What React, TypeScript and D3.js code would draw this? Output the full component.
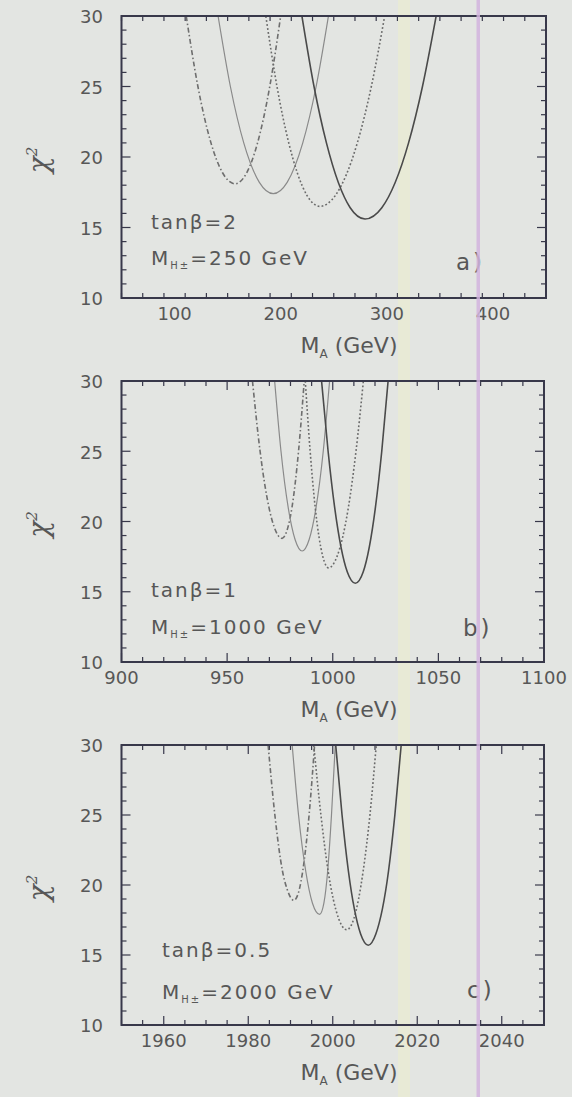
import React from "react";
import * as d3 from "d3";

type Pt = [number, number];

// ---- Panel a: tanβ = 2, M_H± = 250 GeV ----
const aXTicks = [100, 200, 300, 400];
const aCurveDashDot: Pt[] = [[111, 30], [122, 25], [134.3, 21], [145.1, 18.9], [157, 18.1], [168.1, 18.9], [178.2, 21], [189.7, 25], [200, 30]];
const aCurveThin: Pt[] = [[141, 30], [152.6, 25], [165.2, 21], [179.9, 18.2], [193, 17.4], [206.1, 18.2], [220.8, 21], [233.4, 25], [245, 30]];
const aCurveDotted: Pt[] = [[186, 30], [196.5, 25], [207.6, 21], [224.6, 17.3], [237, 16.5], [251.8, 17.3], [272.2, 21], [285.4, 25], [298, 30]];
const aCurveSolid: Pt[] = [[220, 30], [231.4, 25], [243.1, 21], [265.5, 16.4], [279.5, 15.6], [295.3, 16.4], [320.5, 21], [333.6, 25], [346.5, 30]];

// ---- Panel b: tanβ = 1, M_H± = 1000 GeV ----
const bXTicks = [900, 950, 1000, 1050, 1100];
const bCurveDashDot: Pt[] = [[962, 30], [965.6, 25], [969.8, 21], [972.3, 19.6], [976, 18.8], [978.8, 19.6], [980.7, 21], [983.8, 25], [986.5, 30]];
const bCurveThin: Pt[] = [[972.5, 30], [975.5, 25], [978.9, 21], [982.2, 18.7], [985.5, 17.9], [988.8, 18.7], [992.1, 21], [995.5, 25], [998.5, 30]];
const bCurveDotted: Pt[] = [[987, 30], [989.3, 25], [991.7, 21], [995.3, 17.5], [998, 16.7], [1002, 17.5], [1007.4, 21], [1011, 25], [1014.5, 30]];
const bCurveSolid: Pt[] = [[994.7, 30], [997.8, 25], [1000.9, 21], [1006.9, 16.4], [1010.7, 15.6], [1014.4, 16.4], [1020.2, 21], [1023.2, 25], [1026.2, 30]];

// ---- Panel c: tanβ = 0.5, M_H± = 2000 GeV ----
const cXTicks = [1960, 1980, 2000, 2020, 2040];
const cCurveDashDot: Pt[] = [[1984.7, 30], [1986.3, 25], [1988.1, 21], [1989.2, 19.7], [1990.8, 18.9], [1992.1, 19.7], [1992.9, 21], [1994.4, 25], [1995.7, 30]];
const cCurveThin: Pt[] = [[1990.4, 30], [1991.9, 25], [1993.6, 21], [1995.2, 18.7], [1996.9, 17.9], [1997.9, 18.7], [1998.8, 21], [1999.7, 25], [2000.6, 30]];
const cCurveDotted: Pt[] = [[1995.5, 30], [1997.2, 25], [1998.9, 21], [2001.4, 17.6], [2003.3, 16.8], [2005.0, 17.6], [2007.2, 21], [2008.8, 25], [2010.3, 30]];
const cCurveSolid: Pt[] = [[2000.7, 30], [2002.2, 25], [2003.7, 21], [2006.6, 16.5], [2008.4, 15.7], [2010.2, 16.5], [2013.2, 21], [2014.7, 25], [2016.2, 30]];

const yTicks = [10, 15, 20, 25, 30];

type PanelData = {
  id: string;
  xDomain: [number, number];
  xTicks: number[];
  xMinorStep: number;
  curves: { dashDot: Pt[]; thin: Pt[]; dotted: Pt[]; solid: Pt[] };
  tanb: string;
  mass: string;
  tag: string;
};

const panels: PanelData[] = [
  { id: "a", xDomain: [50, 450], xTicks: aXTicks, xMinorStep: 20,
    curves: { dashDot: aCurveDashDot, thin: aCurveThin, dotted: aCurveDotted, solid: aCurveSolid },
    tanb: "2", mass: "250", tag: "a)" },
  { id: "b", xDomain: [900, 1100], xTicks: bXTicks, xMinorStep: 10,
    curves: { dashDot: bCurveDashDot, thin: bCurveThin, dotted: bCurveDotted, solid: bCurveSolid },
    tanb: "1", mass: "1000", tag: "b)" },
  { id: "c", xDomain: [1950, 2050], xTicks: cXTicks, xMinorStep: 5,
    curves: { dashDot: cCurveDashDot, thin: cCurveThin, dotted: cCurveDotted, solid: cCurveSolid },
    tanb: "0.5", mass: "2000", tag: "c)" },
];

// layout (pixels)
const W = 572;
const H = 1097;
const frames = [
  { left: 121.5, right: 546, top: 16, bottom: 298, textX: 151, tanY: 229, massY: 265, tagX: 456, tagY: 270 },
  { left: 121.5, right: 544, top: 381, bottom: 662, textX: 151, tanY: 597, massY: 634, tagX: 463, tagY: 636 },
  { left: 121.5, right: 544, top: 745, bottom: 1025, textX: 162, tanY: 957, massY: 999, tagX: 467, tagY: 998 },
];

const FONT = "'DejaVu Sans', sans-serif";
const INK = "#38384a";
const LABEL = "#575757";

function Panel({ p, f }: { p: PanelData; f: typeof frames[number] }) {
  const x = d3.scaleLinear().domain(p.xDomain).range([f.left, f.right]);
  const y = d3.scaleLinear().domain([10, 30]).range([f.bottom, f.top]);
  const line = d3.line<Pt>().x((d) => x(d[0])).y((d) => y(d[1])).curve(d3.curveMonotoneX);

  const xMinor = d3.range(p.xDomain[0], p.xDomain[1] + 1e-9, p.xMinorStep);
  const yMinor = d3.range(10, 30.0001, 1);
  const isMajorX = (v: number) => p.xTicks.some((t) => Math.abs(t - v) < 1e-6);
  const isMajorY = (v: number) => v % 5 === 0;
  const clipId = `clip-${p.id}`;

  return (
    <g>
      <defs>
        <clipPath id={clipId}>
          <rect x={f.left} y={f.top} width={f.right - f.left} height={f.bottom - f.top} />
        </clipPath>
      </defs>

      {/* ticks on all four sides, pointing inward */}
      <g stroke={INK} strokeWidth={1.2}>
        {xMinor.map((v, i) => {
          const L = isMajorX(v) ? 9 : 5;
          return (
            <g key={`xt${i}`}>
              <line x1={x(v)} x2={x(v)} y1={f.bottom} y2={f.bottom - L} />
              <line x1={x(v)} x2={x(v)} y1={f.top} y2={f.top + L} />
            </g>
          );
        })}
        {yMinor.map((v, i) => {
          const L = isMajorY(v) ? 9 : 5;
          return (
            <g key={`yt${i}`}>
              <line x1={f.left} x2={f.left + L} y1={y(v)} y2={y(v)} />
              <line x1={f.right} x2={f.right - L} y1={y(v)} y2={y(v)} />
            </g>
          );
        })}
      </g>

      <g clipPath={`url(#${clipId})`} fill="none">
        <path d={line(p.curves.dashDot) || ""} stroke="#6e6e6e" strokeWidth={1.6} strokeDasharray="5,2.5,1.5,2.5" />
        <path d={line(p.curves.thin) || ""} stroke="#8a8a8a" strokeWidth={1.2} />
        <path d={line(p.curves.dotted) || ""} stroke="#6a6a6a" strokeWidth={1.6} strokeDasharray="1.8,2.2" />
        <path d={line(p.curves.solid) || ""} stroke="#4a4a4a" strokeWidth={1.6} />
      </g>

      <rect x={f.left} y={f.top} width={f.right - f.left} height={f.bottom - f.top}
        fill="none" stroke={INK} strokeWidth={2} />

      {/* tick labels */}
      <g fontFamily={FONT} fontSize={18} fill={LABEL}>
        {p.xTicks.map((v) => (
          <text key={`xl${v}`} x={x(v)} y={f.bottom + 16} dy="0.35em" textAnchor="middle">{v}</text>
        ))}
        {yTicks.map((v) => (
          <text key={`yl${v}`} x={103} y={y(v) + 1} dy="0.35em" textAnchor="end">{v}</text>
        ))}
      </g>

      {/* axis titles */}
      <text x={349} y={f.bottom + 47} dy="0.35em" textAnchor="middle" fontFamily={FONT} fontSize={22} fill={LABEL}>
        M<tspan fontSize={12} dy="5">A</tspan><tspan dy="-5"> (GeV)</tspan>
      </text>
      <text transform={`translate(48, ${(f.top + f.bottom) / 2 + 3}) rotate(-90)`} textAnchor="middle"
        fontFamily="'DejaVu Serif', serif" fontStyle="italic" fontSize={28} fill={LABEL}>
        χ<tspan fontSize={15} dy="-11">2</tspan>
      </text>

      {/* annotations */}
      <g fontFamily={FONT} fontSize={20} fill={LABEL} letterSpacing={2}>
        <text x={f.textX} y={f.tanY}>tanβ=<tspan>{p.tanb}</tspan></text>
        <text x={f.textX} y={f.massY}>
          M<tspan fontSize={10} dy="4">H±</tspan><tspan dy="-4">={p.mass} GeV</tspan>
        </text>
        <text x={f.tagX} y={f.tagY} fontSize={23} letterSpacing={3}>{p.tag}</text>
      </g>
    </g>
  );
}

export default function App() {
  return (
    <svg width={W} height={H} style={{ position: "absolute", left: 0, top: 0, display: "block" }}>
      <rect x={0} y={0} width={W} height={H} fill="#e3e5e2" />
      {/* faint scan bands */}
      <rect x={398} y={0} width={12} height={H} fill="#e8ead6" />
      {panels.map((p, i) => (
        <Panel key={p.id} p={p} f={frames[i]} />
      ))}
      <rect x={476.5} y={0} width={3.5} height={H} fill="#d2b4de" opacity={0.85} />
    </svg>
  );
}
